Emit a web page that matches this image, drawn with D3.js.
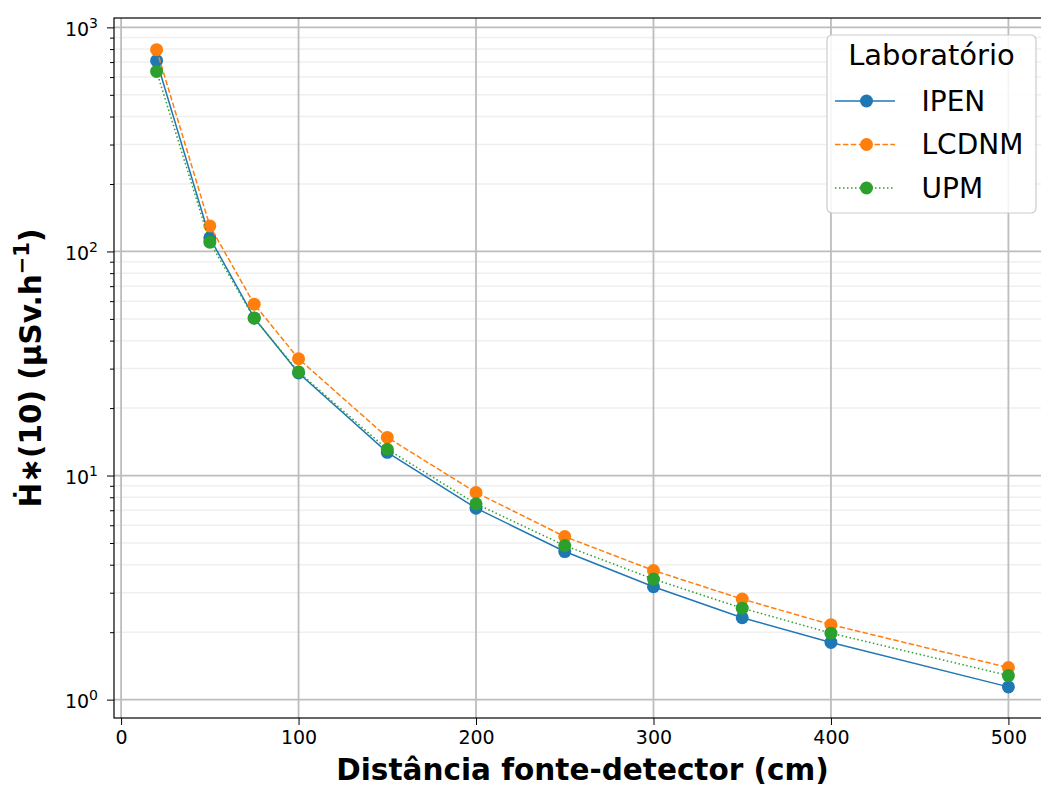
<!DOCTYPE html>
<html><head><meta charset="utf-8">
<script src="https://cdn.jsdelivr.net/npm/d3@7"></script>
<style>body{margin:0;background:#fff}svg{display:block}text{font-family:"DejaVu Sans",sans-serif}</style>
</head><body><svg id="c" width="1041" height="787"></svg>
<script>
const distances = [20, 50, 75, 100, 150, 200, 250, 300, 350, 400, 500];
const ipen  = [710, 115, 50.5, 28.7, 12.7, 7.15, 4.58, 3.19, 2.32, 1.80, 1.14];
const lcdnm = [795, 130, 58.2, 33.2, 14.8, 8.4, 5.34, 3.77, 2.81, 2.16, 1.39];
const upm   = [636, 110, 50.4, 29.0, 13.1, 7.48, 4.87, 3.45, 2.56, 1.98, 1.28];
const seriesNames = ["IPEN", "LCDNM", "UPM"];
const xTicks = [0, 100, 200, 300, 400, 500];
const yTicks = [1, 10, 100, 1000];
const legendTitle = "Laboratório";
const xLabel = "Distância fonte-detector (cm)";

const colors = ["#1f77b4", "#ff7f0e", "#2ca02c"];
const dashes = [null, "5.5,2.4", "1.5,2.5"];
const series = [ipen, lcdnm, upm];

const svg = d3.select("#c");
const L = 114, R = 1051, T = 18, B = 718;
const x = d3.scaleLinear().domain([-4, 524]).range([L, R]);
const y = d3.scaleLog().domain([0.828, 1101]).range([B, T]);

svg.append("defs").append("clipPath").attr("id", "clip")
  .append("rect").attr("x", L).attr("y", T).attr("width", R - L).attr("height", B - T);

// minor y grid
const minors = [];
for (let d = 0; d <= 3; d++) for (let m = 2; m <= 9; m++) {
  const v = m * Math.pow(10, d);
  if (v >= y.domain()[0] && v <= y.domain()[1]) minors.push(v);
}
const g = svg.append("g");
g.selectAll(".mn").data(minors).join("line")
  .attr("x1", L).attr("x2", R).attr("y1", d => y(d)).attr("y2", d => y(d))
  .attr("stroke", "#efefef").attr("stroke-width", 1.5);
g.selectAll(".mjy").data(yTicks).join("line")
  .attr("x1", L).attr("x2", R).attr("y1", d => y(d)).attr("y2", d => y(d))
  .attr("stroke", "#bdbdbd").attr("stroke-width", 1.8);
g.selectAll(".mjx").data(xTicks).join("line")
  .attr("y1", T).attr("y2", B).attr("x1", d => x(d)).attr("x2", d => x(d))
  .attr("stroke", "#bdbdbd").attr("stroke-width", 1.8);

// series
const line = d3.line().x((d, i) => x(distances[i])).y(d => y(d));
const plot = svg.append("g").attr("clip-path", "url(#clip)");
series.forEach((s, k) => {
  const gg = plot.append("g");
  gg.append("path").attr("d", line(s)).attr("fill", "none")
    .attr("stroke", colors[k]).attr("stroke-width", 1.5)
    .attr("stroke-dasharray", dashes[k]);
  gg.selectAll("circle").data(s).join("circle")
    .attr("cx", (d, i) => x(distances[i])).attr("cy", d => y(d))
    .attr("r", 6.5).attr("fill", colors[k]);
});

// axes
const xAxis = d3.axisBottom(x).tickValues(xTicks).tickSize(7).tickPadding(6).tickFormat(d3.format("d"));
const xa = svg.append("g").attr("transform", `translate(0,${B})`).call(xAxis);
xa.select(".domain").remove();
xa.selectAll("text").attr("font-size", 19).attr("fill", "#000");
xa.selectAll("line").attr("stroke", "#000");

const yAxis = d3.axisLeft(y).tickValues(yTicks).tickSize(7).tickPadding(6).tickFormat("");
const ya = svg.append("g").attr("transform", `translate(${L},0)`).call(yAxis);
ya.select(".domain").remove();
ya.selectAll("line").attr("stroke", "#000");
ya.selectAll(".tick").append("text")
  .attr("x", -16).attr("y", 8).attr("text-anchor", "end").attr("fill", "#000")
  .attr("font-size", 19)
  .each(function(d) {
    const t = d3.select(this);
    t.append("tspan").text("10");
    t.append("tspan").attr("font-size", 14).attr("dy", -8).text(Math.round(Math.log10(d)));
  });
const yMinor = d3.axisLeft(y).tickValues(minors).tickSize(4).tickFormat("");
const ym = svg.append("g").attr("transform", `translate(${L},0)`).call(yMinor);
ym.select(".domain").remove();
ym.selectAll("line").attr("stroke", "#000");

// spines
svg.append("rect").attr("x", L).attr("y", T).attr("width", R - L).attr("height", B - T)
  .attr("fill", "none").attr("stroke", "#000").attr("stroke-width", 1.2);

// labels
svg.append("text").attr("x", (L + R) / 2).attr("y", 780).attr("text-anchor", "middle")
  .attr("font-size", 29.5).attr("font-weight", "bold").text(xLabel);
const yl = svg.append("text").attr("transform", `translate(41,368) rotate(-90)`).attr("text-anchor", "middle")
  .attr("font-size", 29.5).attr("font-weight", "bold");
yl.append("tspan").text("Ḣ∗(10) (μSv.h");
yl.append("tspan").attr("font-size", 21).attr("dy", -12).text("−1");
yl.append("tspan").attr("dy", 12).text(")");

// legend
const lg = svg.append("g");
lg.append("rect").attr("x", 827).attr("y", 35).attr("width", 209).attr("height", 178).attr("rx", 5)
  .attr("fill", "rgba(255,255,255,0.85)").attr("stroke", "#cccccc").attr("stroke-width", 1.2);
lg.append("text").attr("x", 931.5).attr("y", 65).attr("text-anchor", "middle")
  .attr("font-size", 29).text(legendTitle);
const rowY = [101, 144.5, 188];
seriesNames.forEach((n, k) => {
  const yy = rowY[k];
  lg.append("line").attr("x1", 835).attr("x2", 895).attr("y1", yy).attr("y2", yy)
    .attr("stroke", colors[k]).attr("stroke-width", 1.5).attr("stroke-dasharray", dashes[k]);
  lg.append("circle").attr("cx", 866.5).attr("cy", yy).attr("r", 6.5).attr("fill", colors[k]);
  lg.append("text").attr("x", 921.5).attr("y", yy + 9.5).attr("font-size", 28).text(n);
});
</script></body></html>
